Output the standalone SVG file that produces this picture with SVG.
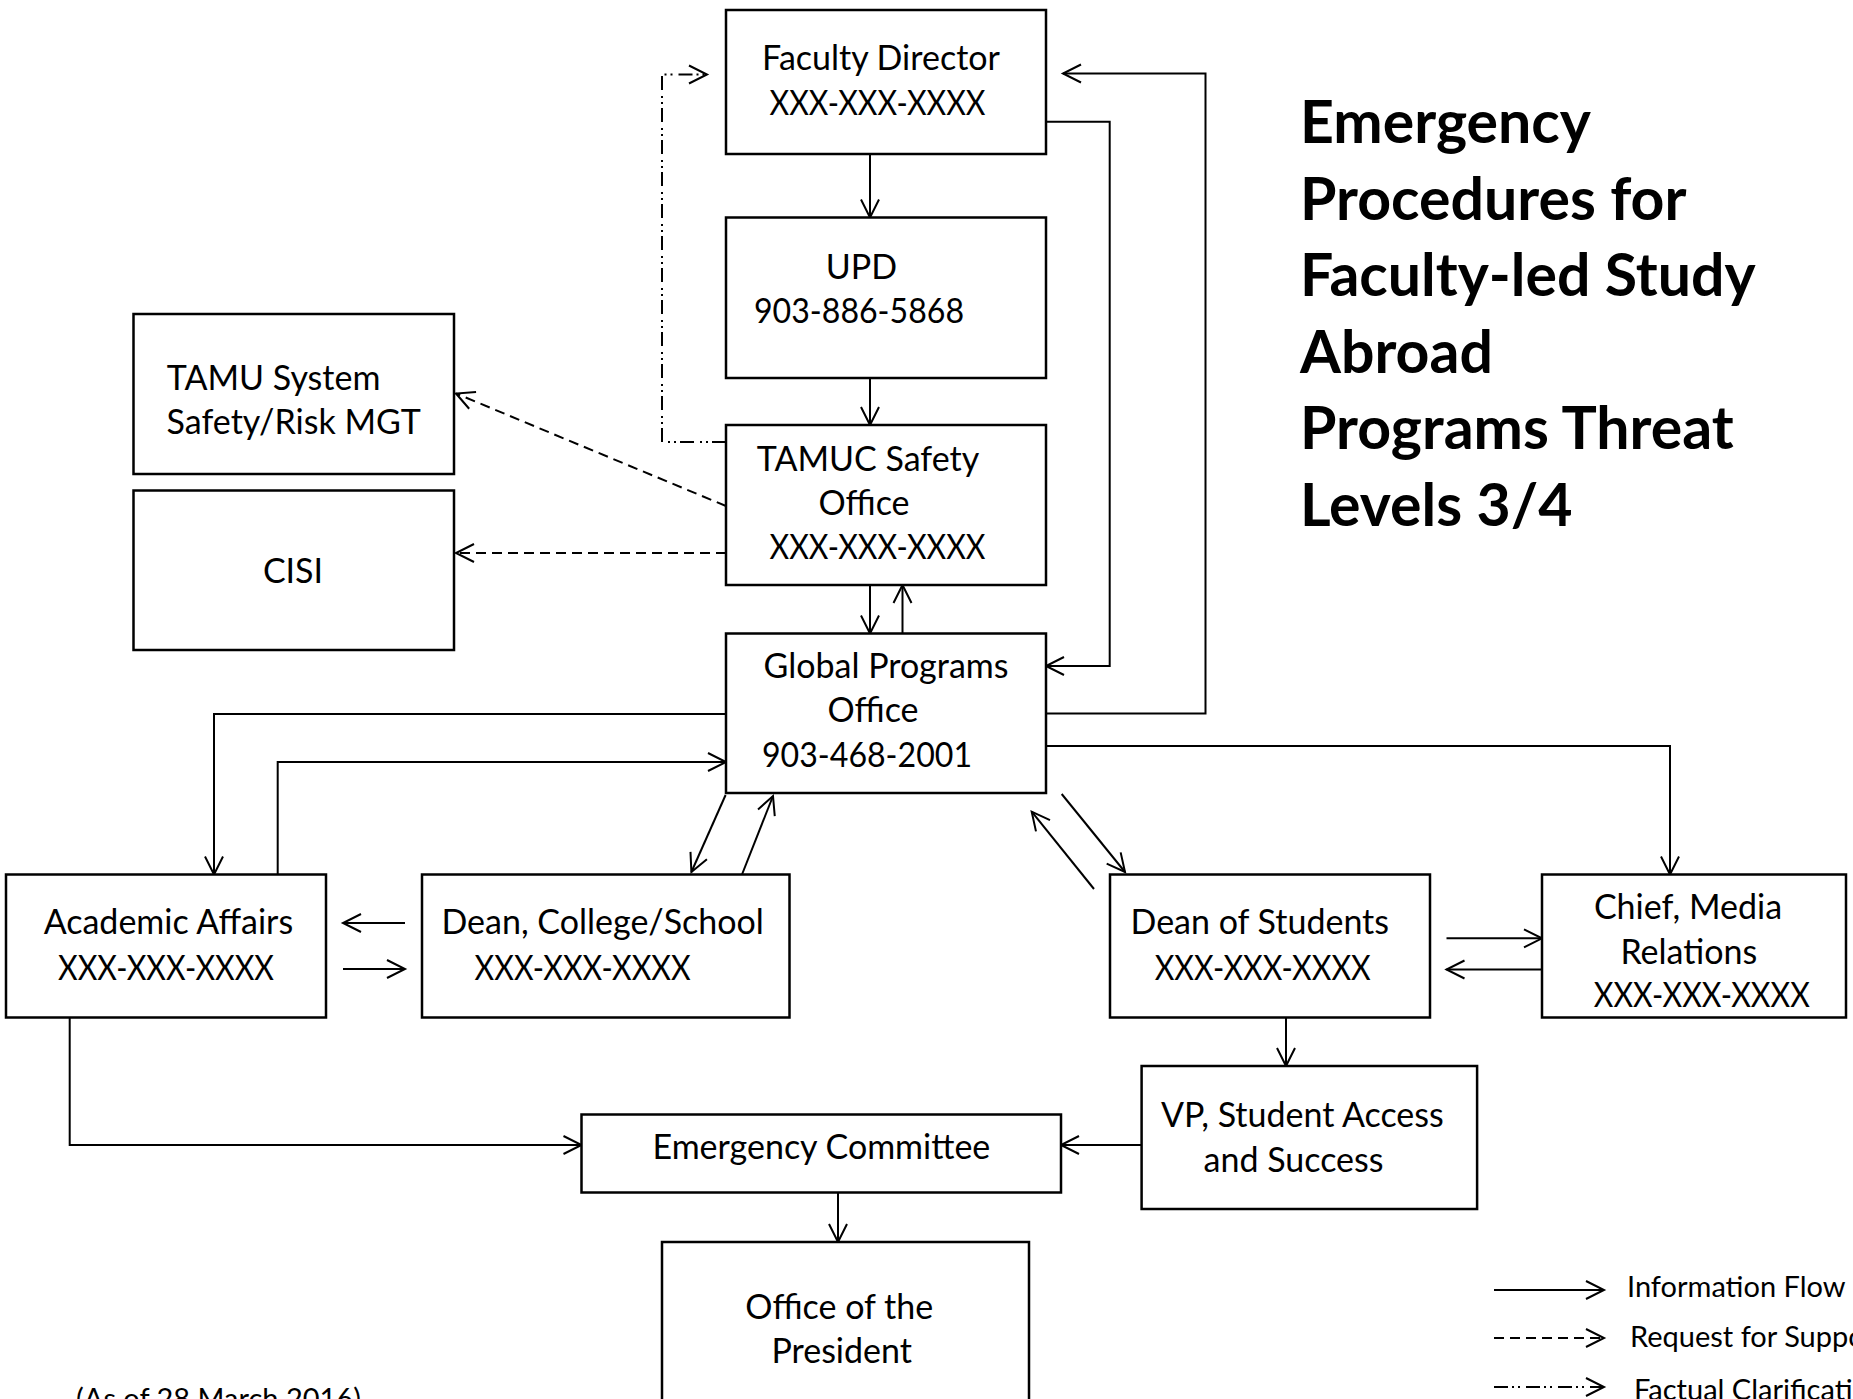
<svg xmlns="http://www.w3.org/2000/svg" width="1853" height="1399" viewBox="0 0 1853 1399">
<style>
.box{fill:#fff;stroke:#000;stroke-width:2.5}
.t{font-family:Lato,"Liberation Sans",sans-serif;font-size:34px;fill:#000;text-anchor:middle}
.title{font-family:Lato,"Liberation Sans",sans-serif;font-size:59px;font-weight:bold;fill:#000}
.lg{font-family:Lato,"Liberation Sans",sans-serif;font-size:29px;fill:#000}
.c{fill:none;stroke:#000;stroke-width:2}
.a{marker-end:url(#ah)}
.dash{stroke-dasharray:10 6}
.dd{stroke-dasharray:14 4 2 4 2 6}
</style>
<defs>
<marker id="ah" markerUnits="userSpaceOnUse" viewBox="0 0 20 20" markerWidth="20" markerHeight="20" refX="19" refY="10" orient="auto" overflow="visible">
<path d="M1,1 L19,10 L1,19" fill="none" stroke="#000" stroke-width="2" stroke-dasharray="none"/>
</marker>
</defs>
<rect width="1853" height="1399" fill="#fff"/>

<g id="connectors">
<line class="c a" x1="870" y1="154" x2="870" y2="217.5"/>
<line class="c a" x1="870" y1="378" x2="870" y2="425"/>
<line class="c a" x1="870" y1="585" x2="870" y2="633.5"/>
<line class="c a" x1="902.5" y1="633.5" x2="902.5" y2="585"/>
<polyline class="c a" points="1046,121.7 1109.7,121.7 1109.7,666 1046,666"/>
<polyline class="c a" points="1046,713.5 1205.5,713.5 1205.5,73.5 1063,73.5"/>
<polyline class="c a dd" points="726,442 662,442 662,74.5 707,74.5"/>
<line class="c a dash" x1="726" y1="506" x2="456" y2="393.5"/>
<line class="c a dash" x1="726" y1="553" x2="456" y2="553"/>
<polyline class="c a" points="726,714 214,714 214,874.5"/>
<polyline class="c a" points="277.7,874.5 277.7,762 726,762"/>
<line class="c a" x1="725.6" y1="795" x2="691.4" y2="872"/>
<line class="c a" x1="742" y1="874.5" x2="773" y2="796"/>
<line class="c a" x1="1061.7" y1="794" x2="1125" y2="872"/>
<line class="c a" x1="1094" y1="889" x2="1031.7" y2="811.7"/>
<polyline class="c a" points="1046,746 1670,746 1670,874.5"/>
<line class="c a" x1="1446.5" y1="938.3" x2="1542" y2="938.3"/>
<line class="c a" x1="1542" y1="969.5" x2="1446.5" y2="969.5"/>
<line class="c a" x1="405" y1="923" x2="343" y2="923"/>
<line class="c a" x1="343" y1="969" x2="405" y2="969"/>
<line class="c a" x1="1286" y1="1017.5" x2="1286" y2="1066"/>
<line class="c a" x1="1141.6" y1="1145" x2="1061" y2="1145"/>
<polyline class="c a" points="69.7,1017.5 69.7,1145 581.5,1145"/>
<line class="c a" x1="838" y1="1192.5" x2="838" y2="1242"/>
</g>

<g id="faculty-director">
<rect class="box" x="726" y="10" width="320" height="144"/>
<text class="t" x="881" y="70">Faculty Director</text>
<text class="t" x="877.5" y="115" textLength="216" lengthAdjust="spacingAndGlyphs">XXX-XXX-XXXX</text>
</g>
<g id="upd">
<rect class="box" x="726" y="217.5" width="320" height="160.5"/>
<text class="t" x="861.5" y="279">UPD</text>
<text class="t" x="859" y="323" textLength="210" lengthAdjust="spacingAndGlyphs">903-886-5868</text>
</g>
<g id="tamuc-safety">
<rect class="box" x="726" y="425" width="320" height="160"/>
<text class="t" x="868" y="471">TAMUC Safety</text>
<text class="t" x="864" y="514.5">Office</text>
<text class="t" x="877.5" y="559" textLength="216" lengthAdjust="spacingAndGlyphs">XXX-XXX-XXXX</text>
</g>
<g id="global-programs">
<rect class="box" x="726" y="633.5" width="320" height="159.5"/>
<text class="t" x="886" y="678">Global Programs</text>
<text class="t" x="873" y="722">Office</text>
<text class="t" x="867" y="767" textLength="210" lengthAdjust="spacingAndGlyphs">903-468-2001</text>
</g>
<g id="tamu-system">
<rect class="box" x="133.5" y="314" width="320.5" height="160"/>
<text class="t" x="273.6" y="390">TAMU System</text>
<text class="t" x="293.7" y="434">Safety/Risk MGT</text>
</g>
<g id="cisi">
<rect class="box" x="133.5" y="490.5" width="320.5" height="159.5"/>
<text class="t" x="293" y="583">CISI</text>
</g>
<g id="academic-affairs">
<rect class="box" x="6" y="874.5" width="320" height="143"/>
<text class="t" x="168.4" y="934">Academic Affairs</text>
<text class="t" x="166" y="980" textLength="216" lengthAdjust="spacingAndGlyphs">XXX-XXX-XXXX</text>
</g>
<g id="dean-college">
<rect class="box" x="422" y="874.5" width="367.5" height="143"/>
<text class="t" x="602.7" y="934">Dean, College/School</text>
<text class="t" x="582.6" y="980" textLength="216" lengthAdjust="spacingAndGlyphs">XXX-XXX-XXXX</text>
</g>
<g id="dean-students">
<rect class="box" x="1110" y="874.5" width="320" height="143"/>
<text class="t" x="1259.8" y="934">Dean of Students</text>
<text class="t" x="1262.7" y="980" textLength="216" lengthAdjust="spacingAndGlyphs">XXX-XXX-XXXX</text>
</g>
<g id="chief-media">
<rect class="box" x="1542" y="874.5" width="304" height="143"/>
<text class="t" x="1688" y="919">Chief, Media</text>
<text class="t" x="1688.8" y="963.5">Relations</text>
<text class="t" x="1701.8" y="1007" textLength="216" lengthAdjust="spacingAndGlyphs">XXX-XXX-XXXX</text>
</g>
<g id="vp-student">
<rect class="box" x="1141.6" y="1066" width="335.5" height="143"/>
<text class="t" x="1302.4" y="1127">VP, Student Access</text>
<text class="t" x="1293.5" y="1171.5">and Success</text>
</g>
<g id="emergency-committee">
<rect class="box" x="581.5" y="1114.5" width="479.5" height="78"/>
<text class="t" x="821.4" y="1158.5">Emergency Committee</text>
</g>
<g id="president">
<rect class="box" x="662" y="1242" width="367" height="180"/>
<text class="t" x="839.3" y="1319">Office of the</text>
<text class="t" x="841.7" y="1363">President</text>
</g>

<g id="title">
<text class="title" x="1300" y="143">Emergency</text>
<text class="title" x="1300" y="220">Procedures for</text>
<text class="title" x="1300" y="296">Faculty-led Study</text>
<text class="title" x="1300" y="373">Abroad</text>
<text class="title" x="1300" y="449">Programs Threat</text>
<text class="title" x="1300" y="526">Levels 3/4</text>
</g>

<g id="legend">
<line class="c a" x1="1494" y1="1290" x2="1604" y2="1290"/>
<text class="lg" x="1627" y="1297">Information Flow</text>
<line class="c a dash" x1="1494" y1="1338" x2="1604" y2="1338"/>
<text class="lg" x="1630" y="1347">Request for Support</text>
<line class="c a dd" x1="1494" y1="1387" x2="1604" y2="1387"/>
<text class="lg" x="1634" y="1400">Factual Clarification</text>
</g>

<text class="lg" x="76" y="1409">(As of 28 March 2016)</text>
</svg>
